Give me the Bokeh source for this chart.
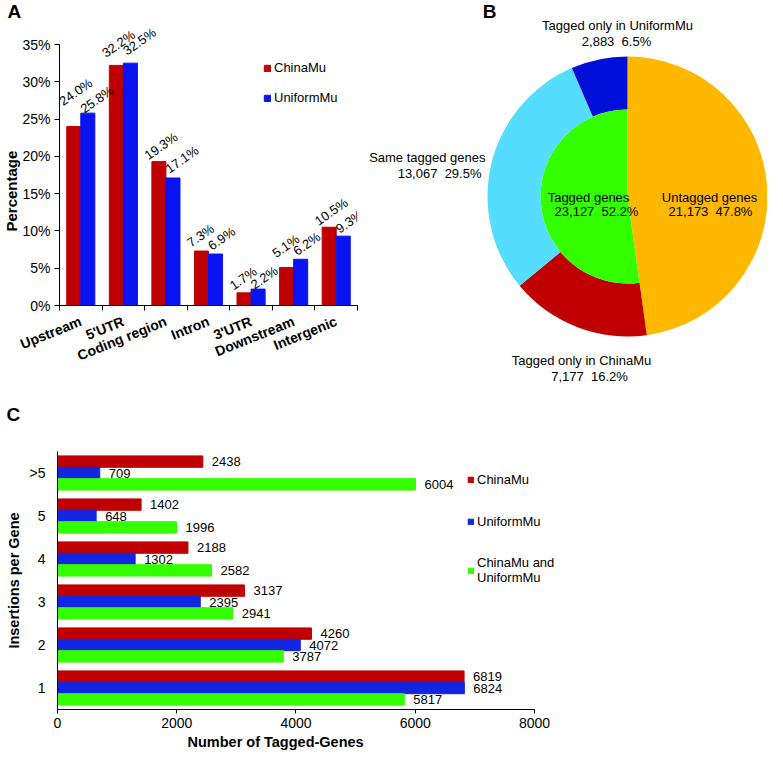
import math
from bokeh.plotting import figure
from bokeh.models import (Range1d, FixedTicker, PrintfTickFormatter, Legend, LegendItem,
                          ColumnDataSource, FactorRange, Title)
from bokeh.layouts import row, column
from bokeh.transform import dodge
from bokeh.embed import file_html
from bokeh.resources import INLINE
from bokeh.core.properties import value

# ---------------- data ----------------
# Panel A
regions = ["Upstream", "5'UTR", "Coding region", "Intron", "3'UTR", "Downstream", "Intergenic"]
china_pct = [24.0, 32.2, 19.3, 7.3, 1.7, 5.1, 10.5]
uniform_pct = [25.8, 32.5, 17.1, 6.9, 2.2, 6.2, 9.3]
pct_ticks = [0, 5, 10, 15, 20, 25, 30, 35]

# Panel B
ring_names = ["Untagged genes", "Tagged only in ChinaMu", "Same tagged genes", "Tagged only in UniformMu"]
ring_counts = [21173, 7177, 13067, 2883]
ring_pcts = [47.8, 16.2, 29.5, 6.5]
inner_name = "Tagged genes"
inner_count = 23127
inner_pct = 52.2

# Panel C
insertions = ["1", "2", "3", "4", "5", ">5"]
china_n = [6819, 4260, 3137, 2188, 1402, 2438]
uniform_n = [6824, 4072, 2395, 1302, 648, 709]
both_n = [5817, 3787, 2941, 2582, 1996, 6004]
count_ticks = [0, 2000, 4000, 6000, 8000]

# ---------------- style ----------------
FONT = "Liberation Sans"
RED = "#C00000"
BLUE_A = "#0A14F2"
BLUE_C = "#1226E2"
GREEN = "#33FF00"
ORANGE = "#FFB800"
SKY = "#55DDFF"
NAVY = "#0010D8"
TXT = "black"
NBSP = "\u00a0"
# extra lift (px) of the rotated value labels of panel A
china_lift = [24, 11, 5, 7, 6, 13, 5]
uniform_lift = [3, 11, 8, 7, 3, 7, 6]


def clean(p):
    p.outline_line_color = None
    p.xgrid.visible = False
    p.ygrid.visible = False


def letter(p, txt, offset):
    p.add_layout(Title(text=txt, align="left", offset=offset, vertical_align="top", standoff=0,
                       text_font=FONT, text_font_style="bold", text_font_size="19px",
                       text_color=TXT), "above")


def pair(a, b):
    return f"{a:,}{NBSP} {b}%"


# ---------------- Panel A ----------------
pa = figure(width=367, height=385, x_range=Range1d(0, len(regions)), y_range=Range1d(0, 37.82),
            output_backend="svg", toolbar_location=None, frame_align=False,
            min_border_left=57, min_border_right=10, min_border_top=23, min_border_bottom=80)
clean(pa)
xa = [i + 0.5 for i in range(len(regions))]
src_a = ColumnDataSource(dict(x=xa, china=china_pct, uniform=uniform_pct,
                              clab=[f"{v:.1f}%" for v in china_pct],
                              ulab=[f"{v:.1f}%" for v in uniform_pct],
                              clift=[-v for v in china_lift],
                              ulift=[-v for v in uniform_lift]))
W = 0.33
rc = pa.vbar(x=dodge("x", -W / 2), top="china", width=W, source=src_a,
             fill_color=RED, line_color=RED)
ru = pa.vbar(x=dodge("x", W / 2), top="uniform", width=W, source=src_a,
             fill_color=BLUE_A, line_color=BLUE_A)
for col, lab, off, lift, xo in [("china", "clab", -W / 2, "clift", -13),
                                ("uniform", "ulab", W / 2, "ulift", -6)]:
    pa.text(x=dodge("x", off), y=col, text=lab, source=src_a, angle=math.radians(35),
            text_align="left", text_baseline="alphabetic", x_offset=xo, y_offset=lift,
            text_font=value(FONT), text_font_size="13px", text_color=TXT)

leg_a = Legend(items=[LegendItem(label="ChinaMu", renderers=[rc]),
                      LegendItem(label="UniformMu", renderers=[ru])],
               location=(204, 200), border_line_color=None, background_fill_alpha=0,
               padding=0, margin=0, spacing=15, glyph_width=8, glyph_height=8,
               label_height=14, label_standoff=3, label_text_font=FONT,
               label_text_font_size="13px", label_text_color=TXT)
pa.add_layout(leg_a)

ya = pa.yaxis[0]
ya.ticker = FixedTicker(ticks=pct_ticks)
ya.bounds = (0, 35)
ya.formatter = PrintfTickFormatter(format="%d%%")
ya.major_tick_out = 5
ya.major_tick_in = 0
ya.minor_tick_out = 0
ya.minor_tick_in = 0
ya.major_label_standoff = 4
ya.major_label_text_font = FONT
ya.major_label_text_font_size = "14px"
ya.major_label_text_color = TXT
ya.axis_line_color = "black"
ya.major_tick_line_color = "black"
pa.add_layout(Title(text="Percentage", align="left", offset=74, standoff=0,
                    text_font=FONT, text_font_style="bold", text_font_size="15px",
                    text_color=TXT), "left")

xax = pa.xaxis[0]
xax.ticker = FixedTicker(ticks=xa, minor_ticks=list(range(len(regions) + 1)))
xax.major_label_overrides = {x: r for x, r in zip(xa, regions)}
xax.major_tick_out = 0
xax.major_tick_in = 0
xax.minor_tick_out = 5
xax.minor_tick_in = 0
xax.minor_tick_line_color = "black"
xax.axis_line_color = "black"
xax.major_label_orientation = math.radians(22)
xax.major_label_text_font = FONT
xax.major_label_text_font_style = "bold"
xax.major_label_text_font_size = "14px"
xax.major_label_text_color = TXT
xax.major_label_standoff = 10

letter(pa, "A", -52)

# ---------------- Panel B ----------------
R_OUT = 140
R_IN = 87
pb = figure(width=400, height=385, x_range=Range1d(-260, 140), y_range=Range1d(-189, 196),
            output_backend="svg", toolbar_location=None, min_border=0, frame_align=False,
            x_axis_location=None, y_axis_location=None)
clean(pb)

total = sum(ring_counts)


def ang(f):
    return math.pi / 2 - 2 * math.pi * f


cum = [0.0]
for c in ring_counts:
    cum.append(cum[-1] + c / total)
ring_colors = [ORANGE, RED, SKY, NAVY]
starts = [ang(cum[i]) for i in range(len(ring_counts))]
ends = [ang(cum[i + 1]) for i in range(len(ring_counts))]

# untagged genes: full-radius wedge
pb.wedge(x=0, y=0, radius=R_OUT, start_angle=starts[0], end_angle=ends[0],
         direction="clock", fill_color=ring_colors[0], line_color=None)
# outer ring segments of the tagged genes
ring_src = ColumnDataSource(dict(start=starts[1:], end=ends[1:], color=ring_colors[1:]))
pb.annular_wedge(x=0, y=0, inner_radius=R_IN, outer_radius=R_OUT, start_angle="start",
                 end_angle="end", direction="clock", fill_color="color", line_color=None,
                 source=ring_src)
# inner: tagged genes
pb.wedge(x=0, y=0, radius=R_IN, start_angle=ang(1 - inner_count / total), end_angle=ang(1.0),
         direction="clock", fill_color=GREEN, line_color=None)

# labels (positions relative to pie centre, px)
name_pos = [(82, -1, "center"), (-46, -164, "center"), (-142, 39, "right"), (-10, 171, "center")]
num_pos = [(83, -15, "center"), (-38, -180, "center"), (-146, 23, "right"), (-11, 155, "center")]
for i in range(len(ring_names)):
    nx, ny, al = name_pos[i]
    mx, my, al2 = num_pos[i]
    pb.text(x=[nx], y=[ny], text=[ring_names[i]], text_align=al, text_baseline="middle",
            text_font=value(FONT), text_font_size="13px", text_color=TXT)
    pb.text(x=[mx], y=[my], text=[pair(ring_counts[i], ring_pcts[i])], text_align=al2,
            text_baseline="middle", text_font=value(FONT), text_font_size="13px", text_color=TXT)
pb.text(x=[-39], y=[-1], text=[inner_name], text_align="center", text_baseline="middle",
        text_font=value(FONT), text_font_size="13px", text_color=TXT)
pb.text(x=[-31], y=[-15], text=[pair(inner_count, inner_pct)], text_align="center",
        text_baseline="middle", text_font=value(FONT), text_font_size="13px", text_color=TXT)
pb.text(x=[-138], y=[185], text=["B"], text_align="center", text_baseline="middle",
        text_font=value(FONT), text_font_style="bold", text_font_size="19px", text_color=TXT)

# ---------------- Panel C ----------------
pc = figure(width=767, height=369, x_range=Range1d(0, 9057),
            y_range=FactorRange(factors=insertions, range_padding=0),
            output_backend="svg", toolbar_location=None, frame_align=False,
            min_border_left=57, min_border_right=170, min_border_top=66, min_border_bottom=45)
clean(pc)
src_c = ColumnDataSource(dict(cat=insertions, china=china_n, uniform=uniform_n, both=both_n,
                              china_lab=[str(v) for v in china_n],
                              uniform_lab=[str(v) for v in uniform_n],
                              both_lab=[str(v) for v in both_n]))
H = 0.265
series = [("china", RED, H, "ChinaMu"), ("uniform", BLUE_C, 0.0, "UniformMu"),
          ("both", GREEN, -H, "ChinaMu and\nUniformMu")]
items_c = []
for col, color, off, name in series:
    r = pc.hbar(y=dodge("cat", off, range=pc.y_range), left=0, right=col, height=H,
                source=src_c, fill_color=color, line_color=color)
    pc.text(x=col, y=dodge("cat", off, range=pc.y_range), text=col + "_lab", source=src_c,
            x_offset=9, text_baseline="middle", text_font=value(FONT),
            text_font_size="13px", text_color=TXT)
    items_c.append(LegendItem(label=name, renderers=[r]))

leg_c = Legend(items=items_c, location=(410, 124), border_line_color=None,
               background_fill_alpha=0, padding=0, margin=0, spacing=26,
               glyph_width=7, glyph_height=7, label_height=16, label_standoff=3,
               label_text_font=FONT, label_text_font_size="13px", label_text_color=TXT)
pc.add_layout(leg_c)

xc = pc.xaxis[0]
xc.ticker = FixedTicker(ticks=count_ticks)
xc.bounds = (0, 8000)
xc.major_tick_out = 4
xc.major_tick_in = 0
xc.minor_tick_out = 0
xc.minor_tick_in = 0
xc.major_label_standoff = 4
xc.major_label_text_font = FONT
xc.major_label_text_font_size = "14px"
xc.major_label_text_color = TXT
xc.axis_line_color = "black"
xc.major_tick_line_color = "black"
pc.add_layout(Title(text="Number of Tagged-Genes", align="left", offset=130, standoff=2,
                    text_font=FONT, text_font_style="bold", text_font_size="14.5px",
                    text_color=TXT), "below")

yc = pc.yaxis[0]
yc.major_tick_out = 0
yc.major_tick_in = 0
yc.minor_tick_out = 0
yc.major_label_standoff = 12
yc.major_label_text_font = FONT
yc.major_label_text_font_size = "14px"
yc.major_label_text_color = TXT
yc.axis_line_color = "black"
yc.axis_label = "Insertions per Gene"
yc.axis_label_text_font = FONT
yc.axis_label_text_font_style = "bold"
yc.axis_label_text_font_size = "14.5px"
yc.axis_label_text_color = TXT
yc.axis_label_standoff = 5

# spacer between frame and the panel letter, then the letter itself
pc.add_layout(Title(text=" ", text_font_size="2px", standoff=21), "above")
letter(pc, "C", -51)

layout = column(row(pa, pb), pc)
open("out.html", "w").write(file_html(layout, INLINE))
